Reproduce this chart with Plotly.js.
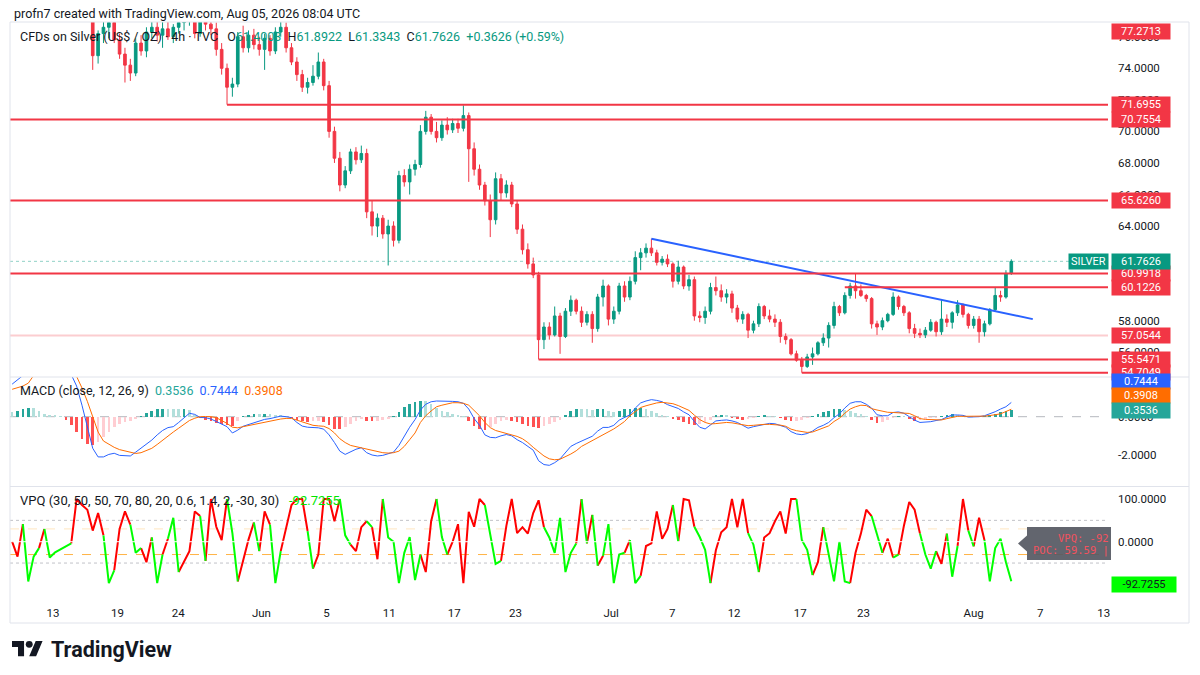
<!DOCTYPE html>
<html>
<head>
<meta charset="utf-8">
<title>CFDs on Silver 4h</title>
<script src="https://cdn.plot.ly/plotly-3.0.1.min.js"></script>
<style>
html,body{margin:0;padding:0;background:#ffffff;overflow:hidden;}
#chart{width:1200px;height:675px;}
</style>
</head>
<body>
<div id="chart"></div>
<script>
// ================= DATA =================
const barOpen = [
84.0,84.8,85.6,86.4,86.1,87.3,87.9,87.2,87.6,86.9,86.0,84.7,82.9,80.6,78.9,
78.2,74.8,76.2,76.6,76.9,75.8,74.9,74.2,73.7,75.6,75.1,76.3,76.6,76.1,76.5,
76.0,76.6,76.9,77.3,77.4,76.2,77.0,76.8,76.5,75.2,74.0,72.8,73.0,76.0,75.3,
76.1,75.5,75.2,75.9,75.1,76.3,76.6,75.3,74.4,73.6,72.8,73.1,73.5,74.4,72.9,
70.0,68.3,66.6,67.5,68.7,68.2,68.6,64.9,64.0,64.5,63.5,64.0,63.1,67.2,66.8,
67.6,67.9,70.0,70.9,70.0,69.6,70.4,70.1,70.5,70.2,71.0,68.9,67.6,66.6,65.6,
64.4,67.0,66.1,66.6,65.4,63.8,62.5,61.6,60.9,56.8,57.6,57.1,58.3,57.0,58.6,
59.3,58.6,57.9,58.4,57.5,59.5,60.2,58.1,58.6,60.2,59.5,60.5,62.0,62.3,62.6,
62.3,61.7,61.9,61.6,60.5,61.4,60.2,60.6,58.3,58.2,58.6,60.1,59.9,59.5,59.7,
58.8,58.1,58.4,57.4,57.8,58.9,58.3,58.1,57.9,57.0,56.8,55.9,55.5,55.1,55.7,
55.9,56.6,56.9,57.7,58.9,58.5,59.6,60.2,59.9,59.6,59.4,57.8,57.6,58.0,58.4,
59.5,58.9,58.5,57.5,57.2,57.1,57.4,57.9,57.3,58.1,57.9,58.5,59.0,58.4,57.7,
58.1,57.3,57.8,58.7,59.6,59.5,61.0];
const barHigh = [
85.2,86.0,86.9,87.5,87.8,88.4,88.6,88.0,88.3,87.4,86.5,85.1,83.3,81.2,79.6,
78.6,76.4,77.2,77.4,77.6,76.2,75.3,74.6,75.9,76.1,76.6,77.0,77.3,77.0,77.0,
76.8,77.5,77.8,78.0,77.6,77.2,77.8,77.5,76.9,75.6,74.3,73.4,76.3,76.7,76.4,
76.5,76.0,76.2,76.1,76.6,77.1,76.9,75.6,74.7,73.9,73.4,74.2,75.0,74.6,73.2,
70.3,68.7,67.8,68.9,69.0,69.1,68.9,65.6,64.8,64.7,64.4,64.3,67.5,67.6,67.9,
68.2,70.4,71.3,71.1,70.6,70.7,70.9,70.8,70.8,71.65,71.2,69.3,67.9,66.8,66.0,
67.4,67.3,66.9,66.8,65.6,64.1,62.9,62.0,61.1,57.9,57.9,58.9,58.5,58.8,59.6,
59.4,58.9,58.6,58.6,59.7,60.6,60.3,58.9,60.4,60.5,60.8,62.4,62.6,62.9,63.2,
62.5,62.1,62.2,61.7,61.8,61.5,60.9,60.8,58.6,58.9,60.4,60.8,60.3,60.0,59.9,
59.0,58.6,58.5,58.0,59.1,59.0,58.7,58.4,58.1,57.2,56.9,56.1,55.7,55.9,56.3,
56.7,57.2,57.9,59.2,59.0,59.8,60.4,60.99,60.3,59.7,59.5,58.0,58.2,58.5,59.8,
59.6,59.0,58.6,57.8,57.5,57.6,58.1,58.0,59.3,58.4,58.6,59.3,59.1,58.5,58.3,
58.3,58.0,58.8,60.1,59.9,61.2,61.8922];
const barLow = [
83.4,84.2,85.0,85.8,85.7,86.9,86.8,86.5,86.4,85.6,84.3,82.4,80.1,78.4,77.3,
73.9,74.3,75.6,75.9,75.6,74.6,73.1,73.2,73.5,74.8,74.7,75.9,75.7,75.3,75.8,
75.6,76.2,76.4,76.7,75.9,76.0,76.4,76.1,74.8,73.6,71.6955,72.2,72.8,75.0,75.0,
75.2,74.8,73.9,74.8,74.9,76.0,75.0,74.2,73.2,72.5,72.4,72.9,73.3,72.6,69.6,
68.0,66.2,66.4,67.3,67.9,68.0,64.5,63.4,63.3,63.2,61.5,62.7,62.9,66.5,66.0,
67.2,67.7,69.8,69.8,69.3,69.4,69.8,69.9,69.9,70.0,66.8,67.2,66.3,65.3,63.3,
64.1,65.6,65.8,65.2,63.5,62.2,61.3,60.7,55.5471,56.2,56.8,57.0,55.9,56.9,58.3,
58.4,57.6,57.7,56.6,57.3,58.9,57.7,57.8,58.4,59.2,59.3,60.3,61.2,62.0,62.1,
61.5,61.5,61.4,60.1,60.3,60.0,59.9,58.0,57.9,57.8,58.4,59.6,59.2,59.1,58.5,
57.9,57.8,56.9,57.2,57.6,58.1,57.9,57.6,56.6,56.5,55.8,55.4,54.7049,55.0,55.2,
55.8,56.4,56.3,57.5,58.3,58.4,59.4,59.4,59.5,59.2,57.5,57.1,57.4,57.9,58.3,
58.7,58.3,57.2,56.9,56.9,56.9,57.3,57.0,57.1,57.6,57.5,58.3,58.2,57.5,57.5,
56.6,57.0,57.7,58.6,59.2,59.4,60.9];
const barClose = [
84.8,85.6,86.4,86.1,87.3,87.9,87.2,87.6,86.9,86.0,84.7,82.9,80.6,78.9,78.2,
74.8,76.2,76.6,76.9,75.8,74.9,74.2,73.7,75.6,75.1,76.3,76.6,76.1,76.5,76.0,
76.6,76.9,77.3,77.4,76.2,77.0,76.8,76.5,75.2,74.0,72.8,73.0,76.0,75.3,76.1,
75.5,75.2,75.9,75.1,76.3,76.6,75.3,74.4,73.6,72.8,73.1,73.5,74.4,72.9,70.0,
68.3,66.6,67.5,68.7,68.2,68.6,64.9,64.0,64.5,63.5,64.0,63.1,67.2,66.8,67.6,
67.9,70.0,70.9,70.0,69.6,70.4,70.1,70.5,70.2,71.0,68.9,67.6,66.6,65.6,64.4,
67.0,66.1,66.6,65.4,63.8,62.5,61.6,60.9,56.8,57.6,57.1,58.3,57.0,58.6,59.3,
58.6,57.9,58.4,57.5,59.5,60.2,58.1,58.6,60.2,59.5,60.5,62.0,62.3,62.6,62.3,
61.7,61.9,61.6,60.5,61.4,60.2,60.6,58.3,58.2,58.6,60.1,59.9,59.5,59.7,58.8,
58.1,58.4,57.4,57.8,58.9,58.3,58.1,57.9,57.0,56.8,55.9,55.5,55.1,55.7,55.9,
56.6,56.9,57.7,58.9,58.5,59.6,60.2,59.9,59.6,59.4,57.8,57.6,58.0,58.4,59.5,
58.9,58.5,57.5,57.2,57.1,57.4,57.9,57.3,58.1,57.9,58.5,59.0,58.4,57.7,58.1,
57.3,57.8,58.7,59.6,59.5,61.0,61.7626];

const macdLine = [
1.70,1.95,2.20,2.45,2.60,2.70,2.75,2.80,2.80,2.70,2.50,2.20,1.60,0.60,-0.55,
-1.65,-2.10,-2.10,-1.97,-1.91,-2.02,-2.05,-2.05,-1.85,-1.65,-1.42,-1.22,-0.95,-0.72,-0.57,
-0.52,-0.30,-0.08,0.18,0.12,-0.04,-0.05,-0.12,-0.25,-0.38,-0.52,-0.85,-0.70,-0.50,-0.40,
-0.31,-0.22,-0.14,-0.10,-0.05,0.03,0.00,-0.05,-0.30,-0.49,-0.55,-0.57,-0.58,-0.65,-0.95,
-1.35,-1.80,-1.97,-1.82,-1.70,-1.62,-1.88,-2.00,-2.05,-2.02,-1.95,-1.85,-1.50,-1.00,-0.55,
-0.15,0.35,0.65,0.78,0.82,0.82,0.81,0.80,0.78,0.70,0.40,-0.10,-0.45,-0.95,-1.08,
-1.10,-1.00,-0.93,-1.00,-1.20,-1.35,-1.55,-1.75,-2.30,-2.50,-2.54,-2.40,-2.20,-1.90,-1.55,
-1.40,-1.27,-1.15,-1.02,-0.75,-0.56,-0.56,-0.45,-0.18,-0.06,0.10,0.45,0.72,0.82,0.89,
0.85,0.78,0.63,0.52,0.43,0.25,0.10,-0.25,-0.55,-0.64,-0.42,-0.22,-0.19,-0.17,-0.22,
-0.30,-0.45,-0.60,-0.52,-0.45,-0.38,-0.35,-0.37,-0.45,-0.55,-0.78,-0.90,-0.94,-0.88,-0.75,
-0.56,-0.45,-0.30,-0.05,0.15,0.45,0.70,0.78,0.78,0.65,0.45,0.10,0.05,0.05,0.22,
0.25,0.18,0.00,-0.18,-0.30,-0.28,-0.26,-0.20,-0.15,-0.02,0.09,0.09,0.07,-0.02,-0.01,
0.00,0.05,0.14,0.26,0.40,0.52,0.7444];
const signalLine = [
1.43,1.50,1.60,1.75,2.15,2.30,2.40,2.50,2.60,2.65,2.65,2.55,2.10,1.50,0.80,
0.00,-0.80,-1.27,-1.45,-1.60,-1.72,-1.80,-1.88,-1.92,-1.88,-1.78,-1.65,-1.45,-1.22,-1.02,
-0.80,-0.60,-0.40,-0.20,-0.08,0.00,0.01,0.00,-0.05,-0.20,-0.35,-0.55,-0.58,-0.52,-0.46,
-0.40,-0.33,-0.27,-0.21,-0.17,-0.12,-0.09,-0.09,-0.18,-0.28,-0.38,-0.45,-0.48,-0.50,-0.62,
-0.85,-1.15,-1.35,-1.50,-1.57,-1.60,-1.67,-1.75,-1.82,-1.88,-1.90,-1.88,-1.80,-1.55,-1.20,
-0.85,-0.30,0.05,0.30,0.52,0.60,0.68,0.73,0.73,0.70,0.60,0.35,0.05,-0.30,-0.57,
-0.72,-0.80,-0.85,-0.92,-1.03,-1.15,-1.35,-1.60,-1.85,-2.05,-2.20,-2.25,-2.22,-2.10,-1.95,
-1.78,-1.55,-1.40,-1.25,-1.12,-0.95,-0.80,-0.64,-0.45,-0.25,0.05,0.25,0.48,0.57,0.66,
0.72,0.75,0.73,0.68,0.58,0.47,0.33,0.08,-0.15,-0.30,-0.38,-0.36,-0.32,-0.30,-0.32,
-0.36,-0.42,-0.47,-0.45,-0.42,-0.40,-0.40,-0.42,-0.44,-0.50,-0.65,-0.73,-0.78,-0.82,-0.80,
-0.70,-0.60,-0.48,-0.25,-0.08,0.18,0.40,0.52,0.60,0.58,0.42,0.35,0.28,0.23,0.22,
0.21,0.20,0.17,0.05,-0.10,-0.14,-0.16,-0.17,-0.17,-0.10,-0.04,0.02,0.02,0.02,0.02,
0.02,0.03,0.06,0.10,0.15,0.27,0.3908];
const macdHist = [
0.25,0.30,0.40,0.48,0.45,0.30,0.15,0.10,0.08,0.05,-0.15,-0.45,-0.80,-1.15,-1.45,
-1.50,-1.30,-1.05,-0.80,-0.55,-0.38,-0.30,-0.22,-0.12,0.05,0.18,0.30,0.38,0.42,0.40,
0.40,0.38,0.40,0.35,0.10,-0.08,-0.15,-0.22,-0.32,-0.40,-0.45,-0.47,-0.25,0.05,0.10,
0.12,0.12,0.13,0.12,0.10,0.08,0.03,-0.05,-0.18,-0.25,-0.28,-0.25,-0.22,-0.30,-0.45,
-0.62,-0.66,-0.55,-0.40,-0.25,-0.12,-0.20,-0.22,-0.20,-0.18,-0.10,0.05,0.25,0.50,0.65,
0.75,0.82,0.80,0.65,0.45,0.30,0.22,0.15,0.10,0.02,-0.25,-0.50,-0.65,-0.72,-0.55,
-0.40,-0.25,-0.15,-0.20,-0.28,-0.38,-0.48,-0.55,-0.57,-0.50,-0.40,-0.30,-0.15,0.10,0.30,
0.40,0.40,0.38,0.35,0.38,0.42,0.30,0.25,0.32,0.38,0.40,0.43,0.45,0.42,0.30,
0.20,0.10,0.05,-0.10,-0.18,-0.28,-0.38,-0.44,-0.38,-0.30,-0.15,0.08,0.10,0.08,-0.05,
-0.12,-0.15,-0.12,-0.05,0.05,0.08,0.06,0.02,-0.05,-0.15,-0.24,-0.22,-0.15,-0.06,0.05,
0.15,0.25,0.32,0.38,0.40,0.35,0.28,0.20,0.12,0.05,-0.15,-0.33,-0.28,-0.18,-0.05,
0.05,0.04,-0.10,-0.20,-0.18,-0.10,-0.08,-0.05,0.03,0.08,0.12,0.08,0.05,-0.03,-0.02,
0.01,0.03,0.10,0.16,0.24,0.28,0.3536];

const vpqValue = [
0,-35,41,-93,-35,-15,30,-37,-25,-18,-10,-4,100,86,75,
26,67,15,-97,-67,30,71,40,-26,-15,-48,10,-97,-30,7,
56,-71,-45,-22,71,60,-45,100,35,4,100,20,-93,-41,5,
45,-22,71,40,-97,-22,30,86,100,100,25,-63,-30,100,100,
48,100,15,-7,-22,34,48,34,-41,100,10,0,-97,-26,11,
-90,-30,-71,48,100,11,-30,0,41,-97,70,35,100,86,15,
-52,-45,37,100,20,34,19,67,97,34,10,-26,56,-71,-26,
-4,100,-4,63,-56,-33,41,-97,-30,-26,4,-97,-80,-10,-4,
71,7,30,86,0,100,97,35,11,-19,-97,-20,22,34,100,
34,100,20,-7,-71,10,20,48,71,19,100,100,4,-19,-78,
-48,34,-30,-93,0,-93,-97,-26,19,75,60,19,-26,7,-37,
-30,37,93,75,19,-30,-63,-22,-52,19,-82,-10,100,26,-11,
56,4,-93,-15,7,-48,-92.7255];
// indicator regime per bar: 1 = bearish (drawn red), 0 = bullish (drawn green)
const vpqRegime = [
1,1,1,0,0,0,1,0,0,0,0,0,1,1,1,
1,1,1,0,0,1,1,1,0,0,1,1,0,0,1,
0,0,1,1,1,1,0,1,1,1,1,0,0,1,1,
1,0,1,1,0,0,1,1,1,1,1,0,1,1,1,
1,1,0,0,1,1,1,0,1,1,0,0,0,0,0,
0,0,1,1,1,0,0,1,1,1,1,1,1,1,0,
0,0,1,1,1,1,1,1,1,1,0,0,0,0,0,
0,1,0,1,0,1,0,0,0,0,1,0,0,1,1,
1,1,1,1,0,1,1,1,0,0,0,1,1,1,1,
1,1,1,0,0,1,1,1,1,1,1,1,0,0,0,
1,1,0,0,0,0,0,1,1,1,1,0,0,1,1,
0,1,1,1,1,0,0,0,1,1,0,0,1,1,0,
1,1,0,0,0,0,0];
const pocPrice = 59.59;

const dateTickBars   = [7.6, 19.6, 30.9, 46.4, 58.5, 70.2, 82.3, 93.7, 111.5, 122.9, 134.4, 146.7, 158.5, 179.0, 191.4, 203.2];
const dateTickLabels = ['13','19','24','Jun','5','11','17','23','Jul','7','12','17','23','Aug','7','13'];
const priceTicks = [56, 58, 64, 66, 68, 70, 72, 74, 76];
const macdTicks  = [-2, 0];
const vpqTicks   = [0, 100];

const levelPrices  = [77.2713, 71.6955, 70.7554, 65.6260, 60.9918, 60.1226, 57.0544, 55.5471, 54.7049];
const levelFromBar = [null, 40, null, null, null, 155, null, 98, 147];   // null = from left edge
const trendBars   = [119, 190];
const trendPrices = [63.2, 58.1];
const lastOHLC = [61.4003, 61.8922, 61.3343, 61.7626];
const lastChange = [0.3626, 0.59];

// ================= LAYOUT HELPERS =================
const PL = 10, PR = 1108, PT = 22, PB = 600;
const Q = X => (X - PL) / (PR - PL);       // pixel column -> paper x
const P = Y => (PB - Y) / (PB - PT);       // pixel row -> paper y
const FONT = 'Roboto, "Noto Sans", "Liberation Sans", Arial, sans-serif';
const TXT = '#131722';
const UP = '#089981', DN = '#f23645';
const xRange = [-0.4, 204];
const mainRange = [54.431, 76.935];
const macdRange = [-3.645, 2.073];
const vpqRange = [-136.5, 129.3];
const N = barClose.length;
const bars = barClose.map((_, i) => i);
const last = N - 1;

// histogram colours (TradingView style)
const histColors = macdHist.map((h, i) => {
  const prev = i > 0 ? macdHist[i - 1] : h;
  if (h >= 0) return prev < h ? '#26a69a' : '#b2dfdb';
  return prev < h ? '#ffcdd2' : '#ff5252';
});

// VPQ coloured runs
function vpqRuns(flag) {
  const xs = [], ys = [];
  for (let i = 1; i < N; i++) {
    if (vpqRegime[i] === flag) {
      if (i === 1 || vpqRegime[i - 1] !== flag) {
        if (xs.length) { xs.push(null); ys.push(null); }
        xs.push(i - 1); ys.push(vpqValue[i - 1]);
      }
      xs.push(i); ys.push(vpqValue[i]);
    }
  }
  return { xs, ys };
}
const redRun = vpqRuns(1), greenRun = vpqRuns(0);

const traces = [
  { type: 'candlestick', x: bars, open: barOpen, high: barHigh, low: barLow, close: barClose,
    xaxis: 'x', yaxis: 'y', whiskerwidth: 0, hoverinfo: 'skip', showlegend: false,
    increasing: { line: { color: UP, width: 1 }, fillcolor: UP },
    decreasing: { line: { color: DN, width: 1 }, fillcolor: DN } },
  { type: 'scatter', mode: 'lines', x: trendBars, y: trendPrices, xaxis: 'x', yaxis: 'y',
    line: { color: '#2962ff', width: 2 }, hoverinfo: 'skip', showlegend: false },
  { type: 'bar', x: bars, y: macdHist, xaxis: 'x', yaxis: 'y2', width: 0.5,
    marker: { color: histColors, line: { width: 0 } }, hoverinfo: 'skip', showlegend: false },
  { type: 'scatter', mode: 'lines', x: bars, y: macdLine, xaxis: 'x', yaxis: 'y2',
    line: { color: '#2962ff', width: 1 }, hoverinfo: 'skip', showlegend: false },
  { type: 'scatter', mode: 'lines', x: bars, y: signalLine, xaxis: 'x', yaxis: 'y2',
    line: { color: '#ff6d00', width: 1 }, hoverinfo: 'skip', showlegend: false },
  { type: 'scatter', mode: 'lines', x: redRun.xs, y: redRun.ys, xaxis: 'x', yaxis: 'y3',
    line: { color: '#ff0000', width: 2 }, connectgaps: false, hoverinfo: 'skip', showlegend: false },
  { type: 'scatter', mode: 'lines', x: greenRun.xs, y: greenRun.ys, xaxis: 'x', yaxis: 'y3',
    line: { color: '#00ff00', width: 2 }, connectgaps: false, hoverinfo: 'skip', showlegend: false }
];

// ================= SHAPES =================
const shapes = [];
const faintLevel = { 6: { color: 'rgba(242,54,69,0.25)', layer: 'below' } };
levelPrices.forEach((p, i) => {
  if (p > mainRange[1] || p < mainRange[0]) return;
  const st = faintLevel[i] || { color: DN, layer: 'above' };
  shapes.push({ type: 'line', xref: 'x', yref: 'y', x0: levelFromBar[i] === null ? xRange[0] : levelFromBar[i],
    x1: xRange[1], y0: p, y1: p, line: { color: st.color, width: 2 }, layer: st.layer });
});
// last price dotted line
shapes.push({ type: 'line', xref: 'paper', yref: 'y', x0: 0, x1: 1, y0: barClose[last], y1: barClose[last],
  line: { color: 'rgba(8,153,129,0.45)', width: 1, dash: 'dot' }, layer: 'below' });
// MACD zero line
shapes.push({ type: 'line', xref: 'paper', yref: 'y2', x0: 0, x1: 1, y0: 0, y1: 0,
  line: { color: 'rgba(120,123,134,0.55)', width: 1, dash: 'dash' }, layer: 'below' });
// VPQ guide lines
[[50, 'rgba(120,123,134,0.45)', 'dot'], [-50, 'rgba(120,123,134,0.45)', 'dot'],
 [30, 'rgba(255,183,77,0.35)', 'dash'], [-30, 'rgba(255,167,38,0.85)', 'dash']].forEach(g => {
  shapes.push({ type: 'line', xref: 'paper', yref: 'y3', x0: 0, x1: 1, y0: g[0], y1: g[0],
    line: { color: g[1], width: 1, dash: g[2] }, layer: 'below' });
});
shapes.push({ type: 'line', xref: 'paper', yref: 'y3', x0: 0, x1: 1, y0: 0, y1: 0,
  line: { color: '#ffffff', width: 1 }, layer: 'above' });
// frame and pane separators
const BORDER = '#e0e3eb';
[[10, 22, 1189, 22], [10, 623, 1189, 623], [10, 22, 10, 623], [1189, 22, 1189, 623],
 [10, 377, 1189, 377], [10, 486.5, 1189, 486.5]].forEach(s => {
  shapes.push({ type: 'line', xref: 'paper', yref: 'paper', x0: Q(s[0]), y0: P(s[1]), x1: Q(s[2]), y1: P(s[3]),
    line: { color: BORDER, width: 1 }, layer: 'above' });
});
// VPQ tooltip bubble
shapes.push({ type: 'path', xref: 'paper', yref: 'paper',
  path: `M ${Q(1018)},${P(543.5)} L ${Q(1027)},${P(535.5)} L ${Q(1027)},${P(527)} L ${Q(1111)},${P(527)} L ${Q(1111)},${P(560)} L ${Q(1027)},${P(560)} L ${Q(1027)},${P(551.5)} Z`,
  fillcolor: 'rgba(86,89,99,0.93)', line: { width: 0 }, layer: 'above' });

// ================= ANNOTATIONS =================
const ann = [];
function txt(X, Y, text, size, color, anchor, extra) {
  ann.push(Object.assign({ xref: 'paper', yref: 'paper', x: Q(X), y: P(Y), xanchor: anchor || 'left', yanchor: 'middle',
    text: text, showarrow: false, font: { family: FONT, size: size, color: color } }, extra || {}));
}
function tag(text, yref, y, bg, fg, extra) {
  ann.push(Object.assign({ xref: 'paper', x: 1, xanchor: 'left', xshift: 3, yref: yref, y: y, yanchor: 'middle',
    text: text, showarrow: false, bgcolor: bg, borderpad: 2, width: 54, height: 11, align: 'center',
    font: { family: FONT, size: 11, color: fg } }, extra || {}));
}
const S = '\u00a0';
txt(12, 13, 'profn7 created with TradingView.com, Aug 05, 2026 08:04 UTC', 12.5, TXT);
const g = v => `<span style="color:${UP}">${v}</span>`;
txt(18, 36, `CFDs on Silver (US$ / OZ) · 4h · TVC${S}${S}${S}O${g(lastOHLC[0].toFixed(4))}${S}${S}H${g(lastOHLC[1].toFixed(4))}${S}${S}L${g(lastOHLC[2].toFixed(4))}${S}${S}C${g(lastOHLC[3].toFixed(4))}${S}${S}${g('+' + lastChange[0].toFixed(4) + ' (+' + lastChange[1].toFixed(2) + '%)')}`, 12.5, TXT);
txt(18, 390, `MACD (close, 12, 26, 9)${S}${S}<span style="color:#26a69a">${macdHist[last].toFixed(4)}</span>${S}${S}<span style="color:#2962ff">${macdLine[last].toFixed(4)}</span>${S}${S}<span style="color:#ff6d00">${signalLine[last].toFixed(4)}</span>`, 12.5, TXT);
txt(18, 500.5, `VPQ (30,${S}50,${S}50,${S}70,${S}80,${S}20,${S}0.6,${S}1.4,${S}2,${S}-30,${S}30)${S}${S}${S}<span style="color:#00e600">${vpqValue[last].toFixed(4)}</span>`, 13, TXT);

// price-scale tags
levelPrices.forEach(p => {
  if (p > mainRange[1]) tag(p.toFixed(4), 'paper', P(31), DN, '#ffffff');
  else tag(p.toFixed(4), 'y', p, DN, '#ffffff');
});
tag(barClose[last].toFixed(4), 'y', barClose[last], UP, '#ffffff');
ann.push({ xref: 'paper', x: 1, xanchor: 'right', xshift: 1, yref: 'y', y: barClose[last], yanchor: 'middle',
  text: 'SILVER', showarrow: false, bgcolor: UP, borderpad: 2, height: 11,
  font: { family: FONT, size: 11, color: '#ffffff' } });
tag(macdLine[last].toFixed(4), 'paper', P(381.5), '#2962ff', '#ffffff');
tag(signalLine[last].toFixed(4), 'paper', P(396), '#ff6d00', '#ffffff');
tag(macdHist[last].toFixed(4), 'paper', P(410.5), '#26a69a', '#ffffff');
tag(vpqValue[last].toFixed(4), 'y3', vpqValue[last], '#00ff00', '#131722', { width: 60, yshift: -3 });
// tooltip texts
const MONO = '"DejaVu Sans Mono", "Liberation Mono", monospace';
ann.push({ xref: 'paper', yref: 'paper', x: Q(1111), y: P(537.5), xanchor: 'right', yanchor: 'middle', showarrow: false,
  text: 'VPQ: ' + Math.trunc(vpqValue[last]), font: { family: MONO, size: 10.5, color: '#f2525e' } });
ann.push({ xref: 'paper', yref: 'paper', x: Q(1111), y: P(550), xanchor: 'right', yanchor: 'middle', showarrow: false,
  text: 'POC: ' + pocPrice.toFixed(2) + ' |', font: { family: MONO, size: 10.5, color: '#f2525e' } });
// footer wordmark
ann.push({ xref: 'paper', yref: 'paper', x: Q(49), y: P(649), xanchor: 'left', yanchor: 'middle', showarrow: false,
  text: '<b>TradingView</b>', font: { family: FONT, size: 21.5, color: TXT } });

const logoSvg = "<svg xmlns='http://www.w3.org/2000/svg' viewBox='0 0 36 28'><path fill='#131722' d='M14 22H7V11H0V4h14v18zM28 22h-8l7.5-18h8L28 22z'/><circle fill='#131722' cx='20' cy='8' r='4'/></svg>";

const axisFont = { family: FONT, size: 11.5, color: TXT };
const yBase = { side: 'right', anchor: 'x', showgrid: false, zeroline: false, showline: false, ticks: '',
  tickfont: axisFont, ticklabelstandoff: 9, fixedrange: true };

const layout = {
  width: 1200, height: 675,
  margin: { l: PL, r: 1200 - PR, t: PT, b: 675 - PB, pad: 0 },
  paper_bgcolor: '#ffffff', plot_bgcolor: '#ffffff',
  showlegend: false, hovermode: false, dragmode: false,
  bargap: 0,
  xaxis: { anchor: 'y3', range: xRange, showgrid: false, zeroline: false, showline: false, ticks: '',
    tickmode: 'array', tickvals: dateTickBars, ticktext: dateTickLabels, tickfont: axisFont,
    ticklabelstandoff: 4, rangeslider: { visible: false }, fixedrange: true },
  yaxis: Object.assign({}, yBase, { domain: [P(377), 1], range: mainRange,
    tickmode: 'array', tickvals: priceTicks, ticktext: priceTicks.map(v => v.toFixed(4)) }),
  yaxis2: Object.assign({}, yBase, { domain: [P(486.5), P(377)], range: macdRange,
    tickmode: 'array', tickvals: macdTicks, ticktext: macdTicks.map(v => v.toFixed(4)) }),
  yaxis3: Object.assign({}, yBase, { domain: [0, P(486.5)], range: vpqRange,
    tickmode: 'array', tickvals: vpqTicks, ticktext: vpqTicks.map(v => v.toFixed(4)) }),
  shapes: shapes,
  annotations: ann,
  images: [{ source: 'data:image/svg+xml;charset=utf-8,' + encodeURIComponent(logoSvg),
    xref: 'paper', yref: 'paper', x: Q(12), y: P(637.5), sizex: 31 / (PR - PL), sizey: 24 / (PB - PT),
    xanchor: 'left', yanchor: 'top', sizing: 'stretch', layer: 'above' }]
};

Plotly.newPlot('chart', traces, layout, { displayModeBar: false, staticPlot: true });
</script>
</body>
</html>
